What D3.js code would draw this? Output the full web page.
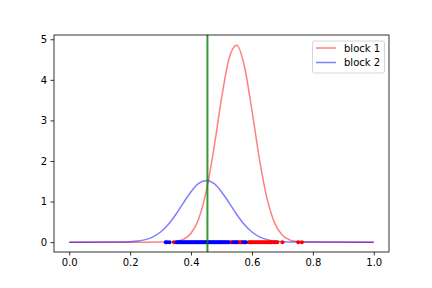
<!DOCTYPE html>
<html><head><meta charset="utf-8">
<script src="https://cdn.jsdelivr.net/npm/d3@7/dist/d3.min.js"></script>
<style>body{margin:0;background:#fff}svg{display:block}text{font-family:"DejaVu Sans",sans-serif}</style>
</head><body><svg id="c" width="432" height="288"></svg>
<script>
// curve sample positions and values
const curveX1 = [0, 0.2, 0.3, 0.325, 0.35, 0.375, 0.4, 0.425, 0.45, 0.475, 0.5, 0.525, 0.55, 0.575, 0.6, 0.625, 0.65, 0.675, 0.7, 0.725, 0.75, 0.775, 0.8, 1.0];
const block1 = [0, 0, 0.001, 0.004, 0.018, 0.069, 0.218, 0.573, 1.259, 2.307, 3.539, 4.534, 4.854, 4.342, 3.246, 2.028, 1.059, 0.462, 0.169, 0.051, 0.013, 0.003, 0.001, 0];
const curveX2 = [0, 0.15, 0.175, 0.2, 0.225, 0.25, 0.275, 0.3, 0.325, 0.35, 0.375, 0.4, 0.425, 0.45, 0.475, 0.5, 0.525, 0.55, 0.575, 0.6, 0.625, 0.65, 0.675, 0.7, 0.725, 0.75, 1.0];
const block2 = [0, 0.001, 0.004, 0.010, 0.026, 0.062, 0.131, 0.250, 0.435, 0.682, 0.969, 1.244, 1.446, 1.52, 1.446, 1.244, 0.969, 0.682, 0.435, 0.250, 0.131, 0.062, 0.026, 0.010, 0.004, 0.001, 0];
const boundary = 0.4538;
const redPoints = [0.344, 0.527, 0.533, 0.541, 0.553, 0.558, 0.563, 0.568, 0.576, 0.59, 0.594, 0.598, 0.603, 0.607, 0.612, 0.617, 0.621, 0.626, 0.631, 0.636, 0.641, 0.646, 0.651, 0.655, 0.66, 0.664, 0.672, 0.677, 0.683, 0.70, 0.752, 0.764];
const bluePoints = [0.317, 0.321, 0.329, 0.352, 0.357, 0.361, 0.365, 0.369, 0.373, 0.377, 0.381, 0.385, 0.389, 0.393, 0.397, 0.401, 0.405, 0.409, 0.413, 0.417, 0.421, 0.425, 0.429, 0.433, 0.437, 0.441, 0.445, 0.449, 0.453, 0.457, 0.461, 0.465, 0.469, 0.473, 0.477, 0.481, 0.485, 0.489, 0.493, 0.497, 0.501, 0.505, 0.509, 0.513, 0.518, 0.522, 0.538, 0.546, 0.55, 0.571, 0.58];
const xTicks = [0, 0.2, 0.4, 0.6, 0.8, 1.0];
const yTicks = [0, 1, 2, 3, 4, 5];
const seriesNames = ["block 1", "block 2"];

const L = 54, R = 389, T = 35, B = 252;
const svg = d3.select("#c");
const x = d3.scaleLinear().domain([-0.05, 1.05]).range([L, R]);
const y = d3.scaleLinear().domain([-0.243, 5.105]).range([B, T]);

const line = d3.line().x(d => x(d[0])).y(d => y(d[1])).curve(d3.curveMonotoneX);
const g = svg.append("g");
g.append("path").datum(curveX1.map((v, i) => [v, block1[i]]))
  .attr("d", line).attr("fill", "none").attr("stroke", "red").attr("stroke-opacity", 0.5).attr("stroke-width", 1.5);
g.append("path").datum(curveX2.map((v, i) => [v, block2[i]]))
  .attr("d", line).attr("fill", "none").attr("stroke", "blue").attr("stroke-opacity", 0.5).attr("stroke-width", 1.5);

g.selectAll(".rp").data(redPoints).enter().append("circle")
  .attr("cx", d => x(d)).attr("cy", y(0)).attr("r", 2).attr("fill", "red");
g.selectAll(".bp").data(bluePoints).enter().append("circle")
  .attr("cx", d => x(d)).attr("cy", y(0)).attr("r", 2).attr("fill", "blue");

g.append("line").attr("x1", x(boundary)).attr("x2", x(boundary)).attr("y1", T).attr("y2", B)
  .attr("stroke", "green").attr("stroke-opacity", 0.8).attr("stroke-width", 2);

const xa = svg.append("g").attr("transform", `translate(0,${B})`)
  .call(d3.axisBottom(x).tickValues(xTicks).tickFormat(d3.format(".1f")).tickSize(3.5).tickPadding(3.5));
const ya = svg.append("g").attr("transform", `translate(${L},0)`)
  .call(d3.axisLeft(y).tickValues(yTicks).tickFormat(d3.format("d")).tickSize(3.5).tickPadding(3.5));
[xa, ya].forEach(a => {
  a.select(".domain").remove();
  a.selectAll("text").attr("font-size", 10).attr("fill", "#000").attr("font-family", "DejaVu Sans");
  a.selectAll("line").attr("stroke", "#000").attr("stroke-width", 0.8);
});
svg.append("rect").attr("x", L).attr("y", T).attr("width", R - L).attr("height", B - T)
  .attr("fill", "none").attr("stroke", "#000").attr("stroke-width", 0.8);

const lg = svg.append("g");
lg.append("rect").attr("x", 312.5).attr("y", 41).attr("width", 72).attr("height", 32).attr("rx", 2)
  .attr("fill", "#fff").attr("fill-opacity", 0.8).attr("stroke", "#ccc").attr("stroke-width", 0.8);
const lc = ["red", "blue"];
seriesNames.forEach((n, i) => {
  const yy = 48 + i * 14.5;
  lg.append("line").attr("x1", 316).attr("x2", 336).attr("y1", yy).attr("y2", yy)
    .attr("stroke", lc[i]).attr("stroke-opacity", 0.5).attr("stroke-width", 1.5);
  lg.append("text").attr("x", 344).attr("y", yy + 3.6).attr("font-size", 10).attr("fill", "#000").text(n);
});
</script></body></html>
